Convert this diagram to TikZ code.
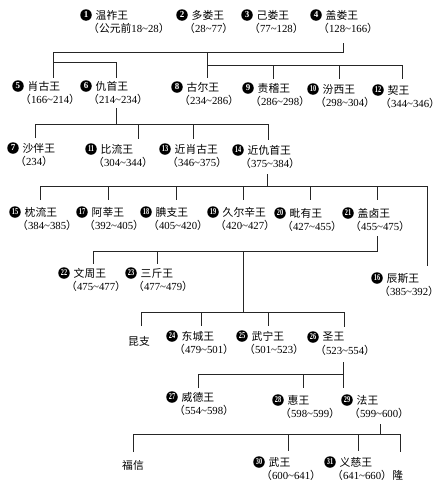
\documentclass[tikz,border=0pt]{standalone}
\usepackage{fontspec}
\setmainfont{Liberation Serif}
\newfontfamily\cjk{Noto Sans CJK SC}
\newcommand\tl{\textasciitilde}
\newcommand\yr[2]{{\cjk （}#1\tl#2{\cjk ）}}
\newcommand\two[1]{\scalebox{0.7}[1]{#1}}
\newcommand\king[6]{%
  \node[numc] (#1c) at (#2,#3) {#4};
  \node[nm] (#1) at (#2+9.5,#3) {#5};
  \node[yrs] (#1y) at (#2+2,#3+13) {#6};
}
\begin{document}
\begin{tikzpicture}[x=1pt,y=-1pt,
  numc/.style={circle,fill=black,text=white,inner sep=0pt,minimum size=11.5pt,
    font=\fontsize{9}{9}\selectfont\bfseries},
  nm/.style={anchor=west,inner sep=0pt,font=\fontsize{10.8}{11}\selectfont\cjk},
  yrs/.style={anchor=west,inner sep=0pt,font=\fontsize{10.8}{11}\selectfont},
  plain/.style={inner sep=0pt,font=\fontsize{10.8}{11}\selectfont\cjk},
  conn/.style={draw=black!85,line width=0.6pt}]
\useasboundingbox[fill=white] (0,0) rectangle (440,485);
% row 1
\king{k1}{86}{15}{1}{温祚王}{{\cjk （公元前}18\tl28{\cjk ）}}
\king{k2}{182}{15}{2}{多娄王}{\yr{28}{77}}
\king{k3}{247}{15}{3}{己娄王}{\yr{77}{128}}
\king{k4}{316}{15}{4}{盖娄王}{\yr{128}{166}}
% row 2
\king{k5}{18}{86}{5}{肖古王}{\yr{166}{214}}
\king{k6}{86}{86}{6}{仇首王}{\yr{214}{234}}
\king{k8}{177}{87}{8}{古尔王}{\yr{234}{286}}
\king{k9}{248}{88}{9}{责稽王}{\yr{286}{298}}
\king{k10}{313}{89}{\two{10}}{汾西王}{\yr{298}{304}}
\king{k12}{378}{90}{\two{12}}{契王}{\yr{344}{346}}
% row 3
\king{k7}{13}{148}{7}{沙伴王}{{\cjk （}234{\cjk ）}}
\king{k11}{91}{149}{\two{11}}{比流王}{\yr{304}{344}}
\king{k13}{165}{149}{\two{13}}{近肖古王}{\yr{346}{375}}
\king{k14}{238}{150}{\two{14}}{近仇首王}{\yr{375}{384}}
% row 4
\king{k15}{15}{212}{\two{15}}{枕流王}{\yr{384}{385}}
\king{k17}{82}{212}{\two{17}}{阿莘王}{\yr{392}{405}}
\king{k18}{146}{212}{\two{18}}{腆支王}{\yr{405}{420}}
\king{k19}{213}{212}{\two{19}}{久尔辛王}{\yr{420}{427}}
\king{k20}{280}{213}{\two{20}}{毗有王}{\yr{427}{455}}
\king{k21}{348}{213}{\two{21}}{盖卤王}{\yr{455}{475}}
% row 5
\king{k22}{64}{273}{\two{22}}{文周王}{\yr{475}{477}}
\king{k23}{131}{273}{\two{23}}{三斤王}{\yr{477}{479}}
\king{k16}{377}{278}{\two{16}}{辰斯王}{\yr{385}{392}}
% row 6
\node[plain] (kunzhi) at (139,341) {昆支};
\king{k24}{172}{336}{\two{24}}{东城王}{\yr{479}{501}}
\king{k25}{242}{336}{\two{25}}{武宁王}{\yr{501}{523}}
\king{k26}{313}{337}{\two{26}}{圣王}{\yr{523}{554}}
% row 7
\king{k27}{172}{397}{\two{27}}{威德王}{\yr{554}{598}}
\king{k28}{278}{400}{\two{28}}{惠王}{\yr{598}{599}}
\king{k29}{347}{400}{\two{29}}{法王}{\yr{599}{600}}
% row 8
\node[plain] (fuxin) at (133,465) {福信};
\king{k30}{259}{462}{\two{30}}{武王}{\yr{600}{641}}
\king{k31}{330}{462}{\two{31}}{义慈王}{\yr{641}{660}}
\node[plain,anchor=west] (long) at (k31y.east) {隆};
% connectors
\draw[conn] (343,43) -- (343,52) -| (53,78);
\draw[conn] (53,62) -| (116,78);
\draw[conn] (207,52) -- (207,78);
\draw[conn] (207,65) -| (402,79);
\draw[conn] (273,65) -- (273,79);
\draw[conn] (339,65) -- (339,79);
\draw[conn] (116,108) -- (116,124);
\draw[conn] (35,138) |- (268,124) -- (268,140);
\draw[conn] (138,124) -- (138,139);
\draw[conn] (193,124) -- (193,139);
\draw[conn] (267,174) -- (267,186);
\draw[conn] (40,200) |- (427,186) -- (427,266);
\foreach \x in {108,176,243,310,377} \draw[conn] (\x,186) -- (\x,200);
\draw[conn] (377,236) -- (377,251) -| (93,264);
\draw[conn] (157,251) -- (157,264);
\draw[conn] (243,251) -- (243,312);
\draw[conn] (141,326) |- (344,312) -- (344,327);
\draw[conn] (201,312) -- (201,326);
\draw[conn] (268,312) -- (268,326);
\draw[conn] (343,362) -- (343,388);
\draw[conn] (198,388) |- (343,374);
\draw[conn] (303,374) -- (303,388);
\draw[conn] (380,424) -- (380,434);
\draw[conn] (133,452) |- (400,434) -- (400,452);
\draw[conn] (288,434) -- (288,451);
\draw[conn] (358,434) -- (358,451);
\end{tikzpicture}
\end{document}
